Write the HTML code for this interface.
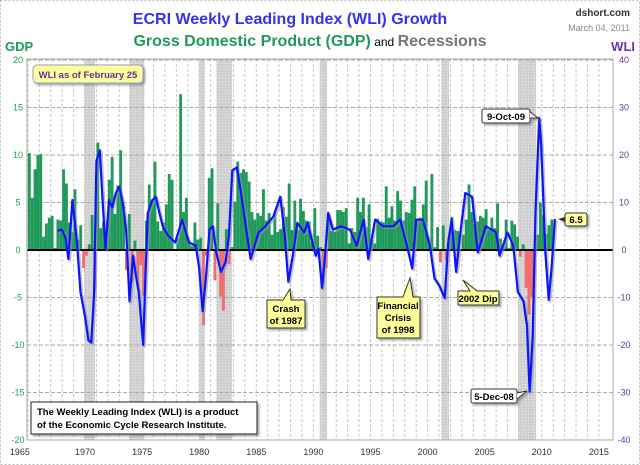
<!DOCTYPE html>
<html><head><meta charset="utf-8"><style>
body{margin:0;background:#fff;}
#c{position:relative;width:640px;height:465px;overflow:hidden;font-family:"Liberation Sans",sans-serif;}
svg text{font-family:"Liberation Sans",sans-serif;}
</style></head><body>
<div id="c">
<svg id="s" width="640" height="465" xmlns="http://www.w3.org/2000/svg">
<defs>
<pattern id="dots" width="3" height="3" patternUnits="userSpaceOnUse"><rect width="3" height="3" fill="#d0d0d0"/><rect width="1" height="1" fill="#eaeaea"/></pattern>
<filter id="sh" x="-20%" y="-20%" width="150%" height="150%"><feDropShadow dx="2" dy="2" stdDeviation="1" flood-color="#777" flood-opacity="0.6"/></filter>
</defs>
<rect x="0.5" y="0.5" width="639" height="464" fill="#fff" stroke="#bbb" stroke-dasharray="2,2"/>
<g id="bands"></g><g id="grid"></g><g id="bars"></g><g id="line"></g><g id="axes"></g>
<text x="290" y="24" text-anchor="middle" font-size="16" font-weight="bold" fill="#3333ee">ECRI Weekly Leading Index (WLI) Growth</text>
<text x="310" y="46" text-anchor="middle" font-size="16" font-weight="bold"><tspan fill="#1f9a5a">Gross Domestic Product (GDP)</tspan><tspan fill="#000" font-size="12" font-weight="normal"> and </tspan><tspan fill="#777">Recessions</tspan></text>
<text x="630" y="16" text-anchor="end" font-size="10" font-weight="bold" fill="#333">dshort.com</text>
<text x="630" y="31" text-anchor="end" font-size="9" fill="#888">March 04, 2011</text>
<text x="5" y="51" font-size="13" font-weight="bold" fill="#1f9a5a">GDP</text>
<text x="635" y="51" text-anchor="end" font-size="13" font-weight="bold" fill="#7030a0">WLI</text>
<g filter="url(#sh)"><rect x="33" y="65" width="110" height="18" rx="4" fill="#ffff99" stroke="#9999cc"/><text x="88" y="78" text-anchor="middle" font-size="9.5" font-weight="bold" fill="#6030a0">WLI as of February 25</text></g>
<g filter="url(#sh)"><rect x="482" y="109" width="48" height="14" rx="2" fill="#fff" stroke="#333"/><path d="M530 112 L538 118 L530 118" fill="#fff" stroke="#333"/><text x="506" y="120" text-anchor="middle" font-size="9.5" font-weight="bold">9-Oct-09</text></g>
<g filter="url(#sh)"><rect x="565" y="213" width="22" height="13" rx="2" fill="#ffff99" stroke="#333"/><path d="M565 217 L558 219 L565 222" fill="#333"/><text x="576" y="223" text-anchor="middle" font-size="9.5" font-weight="bold">6.5</text></g>
<g filter="url(#sh)"><path d="M267 300 H283 L290 289 L291 300 H305 V328 H267 Z" fill="#ffff99" stroke="#333"/><text x="286" y="312" text-anchor="middle" font-size="9.5" font-weight="bold">Crash</text><text x="286" y="324" text-anchor="middle" font-size="9.5" font-weight="bold">of 1987</text></g>
<g filter="url(#sh)"><path d="M377 297 H403 L410 278 L413 297 H420 V338 H377 Z" fill="#ffff99" stroke="#333"/><text x="398" y="309" text-anchor="middle" font-size="9.5" font-weight="bold">Financial</text><text x="398" y="321" text-anchor="middle" font-size="9.5" font-weight="bold">Crisis</text><text x="398" y="333" text-anchor="middle" font-size="9.5" font-weight="bold">of 1998</text></g>
<g filter="url(#sh)"><path d="M458 291 H470 L463 280 L477 291 H499 V305 H458 Z" fill="#ffff99" stroke="#333"/><text x="478" y="302" text-anchor="middle" font-size="9.5" font-weight="bold">2002 Dip</text></g>
<g filter="url(#sh)"><rect x="471" y="389" width="46" height="14" rx="2" fill="#fff" stroke="#333"/><path d="M517 393 L527 391 L517 399" fill="#fff" stroke="#333"/><text x="494" y="400" text-anchor="middle" font-size="9.5" font-weight="bold">5-Dec-08</text></g>
<g filter="url(#sh)"><rect x="31" y="402" width="226" height="32" fill="#fff" stroke="#222"/><text x="37" y="415" font-size="9.5" font-weight="bold">The Weekly Leading Index (WLI) is a product</text><text x="37" y="428" font-size="9.5" font-weight="bold">of the Economic Cycle Research Institute.</text></g>
</svg></div>
<script>
const recStart=[1969.92,1973.88,1980.0,1981.5,1990.55,2001.2,2007.92];
const recEnd=[1970.88,1975.2,1980.5,1982.88,1991.2,2001.88,2009.5];
const gdpStartYear=1965;
const gdp=[10.2,5.5,8.5,10.0,10.1,1.4,2.8,3.4,3.6,0.2,3.2,3.1,8.5,7.0,2.9,1.9,6.4,1.1,2.6,-1.9,-0.6,0.6,3.7,-4.2,11.3,2.3,3.0,1.1,7.4,9.8,3.8,6.8,10.5,4.7,-2.1,3.8,-3.4,1.0,-3.8,-1.6,-4.8,3.1,6.9,5.3,9.3,3.0,2.0,2.9,4.8,8.0,7.4,0.0,1.3,16.4,4.0,5.5,0.7,0.4,2.9,1.1,1.3,-7.9,-0.6,7.6,8.6,-3.2,4.9,-4.9,-6.4,2.2,-1.5,0.3,5.1,9.3,8.1,8.5,8.2,7.2,4.0,3.2,3.9,3.6,6.4,3.1,3.9,1.6,3.9,1.9,2.2,4.5,3.5,7.0,2.1,5.2,2.1,5.4,4.1,3.1,3.0,0.8,4.4,1.5,0.3,-3.6,-1.9,3.2,2.0,1.9,4.2,4.2,4.0,4.4,0.7,2.3,1.9,5.5,4.0,5.5,2.4,4.8,1.1,0.7,3.3,3.0,2.9,6.7,3.4,4.6,3.1,6.2,5.2,3.1,4.0,3.9,5.3,6.7,3.2,3.4,4.8,7.3,1.0,8.0,0.3,2.4,-1.3,2.6,-1.1,1.4,3.5,2.1,2.0,0.1,1.6,3.2,6.9,4.0,2.7,3.0,3.6,3.4,4.3,2.1,3.4,2.3,4.9,1.2,0.4,3.2,0.2,3.1,2.7,1.4,-0.7,0.6,-4.0,-6.8,-4.9,-0.7,1.6,5.0,3.7,1.7,2.6,3.2];
const wliT=[1967.6,1967.97,1968.3,1968.55,1968.9,1969.3,1969.6,1970.0,1970.3,1970.55,1970.8,1971.0,1971.3,1971.55,1971.8,1972.1,1972.4,1972.7,1973.0,1973.3,1973.6,1973.9,1974.2,1974.5,1974.7,1975.1,1975.3,1975.5,1975.9,1976.2,1976.5,1976.8,1977.3,1977.9,1978.5,1979.1,1979.7,1980.0,1980.3,1980.6,1980.9,1981.2,1981.5,1981.9,1982.3,1982.6,1982.9,1983.3,1983.8,1984.2,1984.5,1985.2,1985.8,1986.5,1987.1,1987.5,1987.8,1988.2,1988.6,1989.2,1989.5,1990.2,1990.45,1990.75,1991.0,1991.3,1991.7,1992.4,1993.2,1993.8,1994.4,1994.8,1995.4,1996.1,1997.0,1997.6,1998.2,1998.65,1999.0,1999.6,2000.2,2000.6,2001.0,2001.5,2001.8,2002.1,2002.5,2002.9,2003.3,2003.9,2004.4,2005.1,2006.0,2006.3,2007.0,2007.5,2007.9,2008.4,2008.7,2008.93,2009.05,2009.2,2009.45,2009.77,2009.95,2010.1,2010.3,2010.6,2010.85,2011.15];
const wliV=[4.0,4.3,2.5,-1.9,10.5,1.6,-8.8,-14,-19,-19.5,-9,18.8,21,10,0.2,10.5,9,12,13.3,10,4.3,-10.8,-1.2,-6,-8.8,-20,-5,7.8,10.5,11.2,8,5,3,1.6,6.4,1.6,0.9,-3.9,-12.9,-5.3,4.3,5,-0.5,-4.6,-2.6,3,16.8,17.4,9.9,3,-1.9,3.7,5,7.1,11.2,3,-6.7,-1.2,5.7,3.7,5.7,-1.2,0.2,-8,-1.9,7.8,4.3,5,4.3,0.9,6.4,-1.9,6.4,5,5,6.4,0.9,-3.9,6.4,6.4,0.9,-6,-7.4,-10.1,1.6,6.4,-4.6,4.3,12,11.2,-0.5,5,3.7,-1.2,3.7,0.9,-8.8,-10.8,-16,-29.8,-25,-18,8,27.8,22,13,0,-10.5,-4,6.5];
const yTicks=[20,15,10,5,0,-5,-10,-15,-20];
const xTicks=[1965,1970,1975,1980,1985,1990,1995,2000,2005,2010,2015];
const NS='http://www.w3.org/2000/svg';
const L=27,R=613,T=59,B=440;
function xS(t){return 27.9+(t-1965)*11.42;}
function yG(g){return 250-g*9.5;}
function yW(w){return yG(w/2);}
function mk(tag,attrs,parent){const e=document.createElementNS(NS,tag);for(const k in attrs)e.setAttribute(k,attrs[k]);parent.appendChild(e);return e;}
const bands=document.getElementById('bands'),grid=document.getElementById('grid'),bars=document.getElementById('bars'),line=document.getElementById('line'),axes=document.getElementById('axes');
recStart.forEach((s,i)=>{const r=mk('rect',{x:xS(s),y:T,width:xS(recEnd[i])-xS(s),height:B-T,fill:'url(#dots)'},bands);

});
for(let y=1965;y<=2015;y++){const l=mk('line',{x1:xS(y),x2:xS(y),y1:T,y2:B,stroke:'#c8c8c8','stroke-dasharray':'3,2','stroke-width':1},grid);

}
yTicks.forEach(v=>{if(v!==0){const l=mk('line',{x1:L,x2:R,y1:yG(v),y2:yG(v),stroke:'#aaa','stroke-dasharray':'4,2','stroke-width':1},grid);

}
const t=mk('text',{x:18,y:yG(v)+3,'text-anchor':'middle','font-size':9,fill:'#1f9a5a'},axes);t.textContent=v;


const t2=mk('text',{x:624,y:yG(v)+3,'text-anchor':'middle','font-size':9,fill:'#7030a0'},axes);t2.textContent=v*2;

});
xTicks.forEach(v=>{const t=mk('text',{x:xS(v)-(v===1965?8:0),y:455,'text-anchor':'middle','font-size':9,fill:'#333'},axes);t.textContent=v;

});
const fr=mk('rect',{x:L,y:T,width:R-L,height:B-T,fill:'none',stroke:'#aaa'},axes);


gdp.forEach((g,i)=>{const t=gdpStartYear+i/4;const x0=xS(t),x1=xS(t+0.25);
const b=mk('rect',{x:x0,y:Math.min(yG(g),yG(0)),width:x1-x0,height:Math.abs(yG(g)-yG(0)),fill:g>=0?'#1f9a5a':'#f26d6d'},bars);

});
const z=mk('line',{x1:L,x2:R,y1:yG(0),y2:yG(0),stroke:'#000','stroke-width':2},bars);


const pts=wliT.map((t,i)=>xS(t).toFixed(1)+','+yW(wliV[i]).toFixed(1)).join(' ');
const sh=mk('polyline',{points:pts,fill:'none',stroke:'#999','stroke-width':2.5,transform:'translate(1.5,1.5)','stroke-linejoin':'round',opacity:0.6},line);


const pl=mk('polyline',{points:pts,fill:'none',stroke:'#0a14ff','stroke-width':2.2,'stroke-linejoin':'round'},line);


</script>
</body></html>
